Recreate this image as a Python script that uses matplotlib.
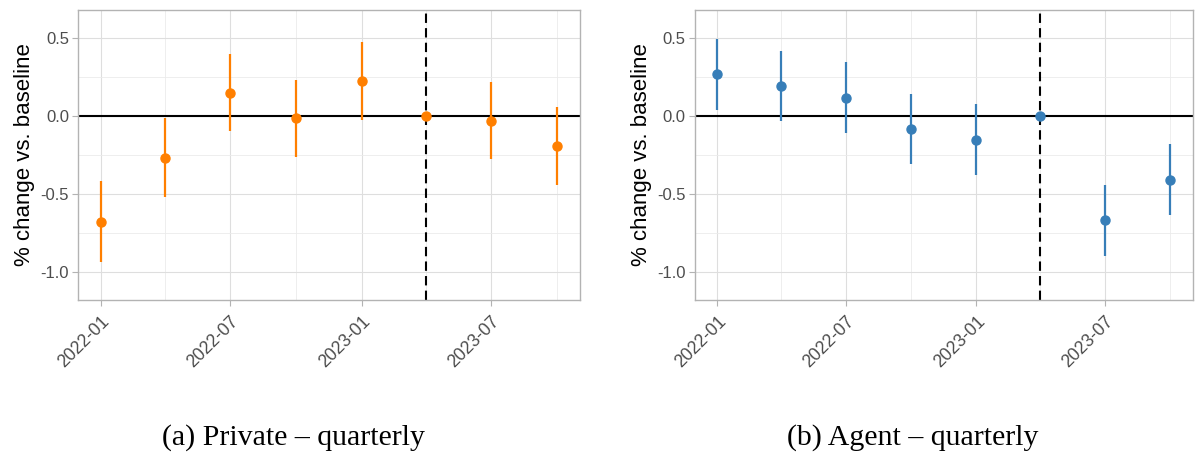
import datetime as dt
import matplotlib
matplotlib.use("Agg")
import matplotlib.pyplot as plt
import matplotlib.dates as mdates
import numpy as np

quarters = ["2022-01-01", "2022-04-01", "2022-07-01", "2022-10-01",
            "2023-01-01", "2023-04-01", "2023-07-01", "2023-10-01"]
event_date = "2023-04-01"

private_est = [-0.679, -0.267, 0.149, -0.015, 0.224, 0.0, -0.030, -0.195]
private_lo = [-0.938, -0.522, -0.099, -0.265, -0.024, 0.0, -0.278, -0.445]
private_hi = [-0.419, -0.013, 0.397, 0.233, 0.472, 0.0, 0.220, 0.058]

agent_est = [0.267, 0.194, 0.117, -0.081, -0.152, 0.0, -0.669, -0.410]
agent_lo = [0.040, -0.034, -0.109, -0.308, -0.380, 0.0, -0.896, -0.637]
agent_hi = [0.491, 0.419, 0.344, 0.143, 0.074, 0.0, -0.440, -0.182]

captions = ["(a) Private \u2013 quarterly", "(b) Agent \u2013 quarterly"]
colors = ["#FF7F00", "#377EB8"]
ylabel = "% change vs. baseline"

plt.rcParams["font.family"] = ["Liberation Sans", "DejaVu Sans"]

fig = plt.figure(figsize=(12, 4.55), dpi=100)
ax_boxes = [[0.065, 0.341, 0.418, 0.637], [0.579, 0.341, 0.415, 0.637]]
caption_x = [0.245, 0.761]

dates = [dt.datetime.strptime(d, "%Y-%m-%d") for d in quarters]
xnum = mdates.date2num(dates)
span = xnum[-1] - xnum[0]
xlim = (xnum[0] - 0.05 * span, xnum[-1] + 0.05 * span)
event_x = mdates.date2num(dt.datetime.strptime(event_date, "%Y-%m-%d"))

major_ticks = [mdates.date2num(dt.datetime(y, m, 1)) for y, m in
               [(2022, 1), (2022, 7), (2023, 1), (2023, 7)]]
minor_ticks = [mdates.date2num(dt.datetime(y, m, 1)) for y, m in
               [(2022, 4), (2022, 10), (2023, 4), (2023, 10)]]

series = [(private_est, private_lo, private_hi), (agent_est, agent_lo, agent_hi)]

for box, (est, lo, hi), col, cap, cx in zip(ax_boxes, series, colors, captions, caption_x):
    ax = fig.add_axes(box)
    ax.set_xlim(*xlim)
    ax.set_ylim(-1.18, 0.68)

    ax.set_xticks(major_ticks)
    ax.set_xticks(minor_ticks, minor=True)
    ax.xaxis.set_major_formatter(mdates.DateFormatter("%Y-%m"))
    ax.set_yticks([-1.0, -0.5, 0.0, 0.5])
    ax.set_yticks([-0.75, -0.25, 0.25], minor=True)
    ax.set_yticklabels(["-1.0", "-0.5", "0.0", "0.5"])

    ax.grid(which="major", color="#DEDEDE", linewidth=0.8, zorder=0)
    ax.grid(which="minor", color="#EBEBEB", linewidth=0.6, zorder=0)
    ax.set_axisbelow(True)

    for s in ax.spines.values():
        s.set_color("#B3B3B3")
        s.set_linewidth(1.0)

    ax.tick_params(axis="both", which="major", color="#B3B3B3", length=4,
                   width=0.8, labelcolor="#4D4D4D")
    ax.tick_params(axis="y", which="major", labelsize=12, pad=2.5)
    ax.tick_params(axis="x", which="major", labelsize=12.7, pad=5.5)
    ax.tick_params(axis="both", which="minor", length=0)
    for lab in ax.get_xticklabels():
        lab.set_rotation(45)
        lab.set_ha("right")
        lab.set_va("top")
        lab.set_rotation_mode("anchor")

    ax.axhline(0, color="black", linewidth=1.5, zorder=2)
    ax.axvline(event_x, color="black", linewidth=1.5, linestyle=(0, (4.5, 2.5)), zorder=2)

    est_a = np.array(est)
    err = np.vstack([est_a - np.array(lo), np.array(hi) - est_a])
    ax.errorbar(xnum, est_a, yerr=err, fmt="o", color=col, ecolor=col,
                elinewidth=1.6, markersize=6.5, capsize=0, zorder=3)

    ax.set_ylabel(ylabel, fontsize=16, color="black", labelpad=4)

    fig.text(cx, 0.0235, cap, ha="center", va="baseline", fontsize=21.5,
             family=["Liberation Serif", "DejaVu Serif"])

fig.savefig("out.png", dpi=100)
